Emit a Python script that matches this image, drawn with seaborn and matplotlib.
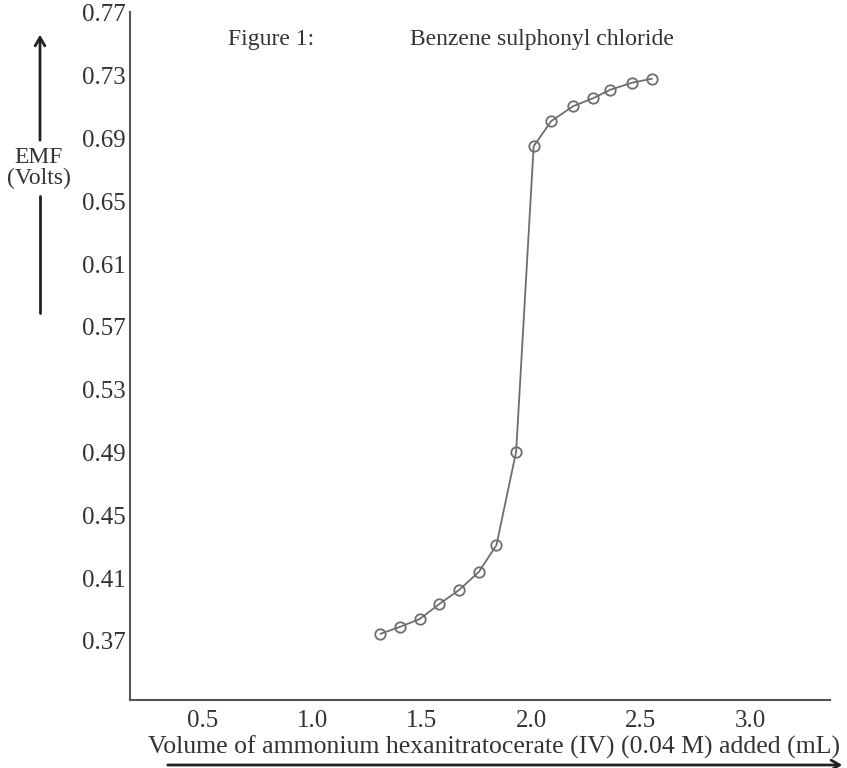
import matplotlib
matplotlib.use("Agg")
import matplotlib.pyplot as plt
import pandas as pd
import seaborn as sns

# Titration data
volume_ml = [1.31, 1.40, 1.49, 1.58, 1.67, 1.76, 1.84, 1.93, 2.01, 2.09, 2.19, 2.28, 2.36, 2.46, 2.55]
emf_volts = [0.3745, 0.379, 0.384, 0.3936, 0.4025, 0.414, 0.431, 0.4905, 0.685, 0.701, 0.7105, 0.7155, 0.721, 0.7255, 0.728]

x_ticks = [0.5, 1.0, 1.5, 2.0, 2.5, 3.0]
x_tick_labels = ["0.5", "1.0", "1.5", "2.0", "2.5", "3.0"]
y_ticks = [0.37, 0.41, 0.45, 0.49, 0.53, 0.57, 0.61, 0.65, 0.69, 0.73, 0.77]
y_tick_labels = ["0.37", "0.41", "0.45", "0.49", "0.53", "0.57", "0.61", "0.65", "0.69", "0.73", "0.77"]

df = pd.DataFrame({"volume": volume_ml, "emf": emf_volts})

sns.set_style("white")
plt.rcParams["font.family"] = ["Liberation Serif", "DejaVu Serif"]

W, H = 847, 768
fig = plt.figure(figsize=(W / 100, H / 100), dpi=100)
ax = fig.add_axes([130 / W, 1 - 700 / H, 700 / W, 688 / H])

sns.lineplot(data=df, x="volume", y="emf", ax=ax, color="#6e6e6e", linewidth=1.3,
             marker="o", markersize=7.5, markerfacecolor="none",
             markeredgecolor="#6e6e6e", markeredgewidth=1.3)

ax.set_xlim(0.167, 3.363)
ax.set_ylim(0.3324, 0.7705)
ax.set_xticks(x_ticks)
ax.set_xticklabels(x_tick_labels)
ax.set_yticks(y_ticks)
ax.set_yticklabels(y_tick_labels)
ax.tick_params(axis="x", length=0, pad=7, labelsize=18, labelcolor="#333333")
ax.tick_params(axis="y", length=3, direction="in", pad=3, labelsize=18,
               labelcolor="#333333", color="#999999")
ax.set_xlabel("")
ax.set_ylabel("")

for s in ["top", "right"]:
    ax.spines[s].set_visible(False)
for s in ["left", "bottom"]:
    ax.spines[s].set_color("#555555")
    ax.spines[s].set_linewidth(1.5)


def fx(px):
    return px / W


def fy(py):
    return 1 - py / H


# Title
fig.text(fx(228), fy(40), "Figure 1:", fontsize=17, color="#333333", va="center")
fig.text(fx(410), fy(40), "Benzene sulphonyl chloride", fontsize=17, color="#333333", va="center")

# Y label with broken arrow
fig.text(fx(39), fy(168), "EMF\n(Volts)", fontsize=17, color="#333333",
         ha="center", va="center", linespacing=1.05)
fig.add_artist(matplotlib.patches.FancyArrowPatch(
    (fx(40), fy(143)), (fx(40), fy(32)), transform=fig.transFigure,
    arrowstyle="->,head_length=6,head_width=3.5", linewidth=2, color="#222222"))
fig.add_artist(matplotlib.lines.Line2D([fx(40), fx(40)], [fy(196), fy(313)],
                                       transform=fig.transFigure, linewidth=2, color="#222222"))

# X label with arrow
fig.text(fx(494), fy(747), "Volume of ammonium hexanitratocerate (IV) (0.04 M) added (mL)",
         fontsize=18.5, color="#333333", ha="center", va="center")
fig.add_artist(matplotlib.patches.FancyArrowPatch(
    (fx(165), fy(765)), (fx(845), fy(765)), transform=fig.transFigure,
    arrowstyle="->,head_length=6,head_width=3.5", linewidth=2, color="#222222"))

fig.savefig("out.png", dpi=100)
